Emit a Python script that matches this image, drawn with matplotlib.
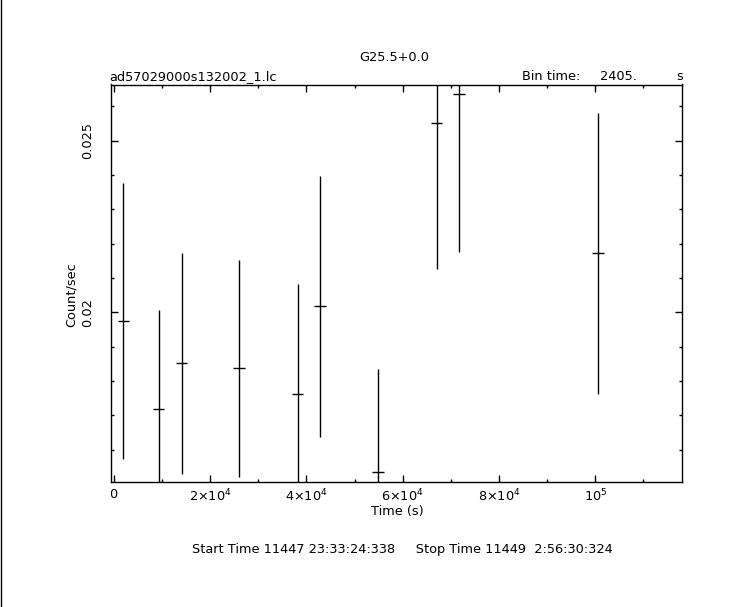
import matplotlib
matplotlib.use("Agg")
import matplotlib.pyplot as plt
from matplotlib.ticker import FixedLocator, MultipleLocator, FixedFormatter
from matplotlib.lines import Line2D

# ---- data ----
time_s = [1993, 9343, 14118, 26076, 38201, 42831, 54934, 67059, 71750, 100608]
rate = [0.019747, 0.017175, 0.018515, 0.018369, 0.017612, 0.020175,
        0.015349, 0.025504, 0.026377, 0.021718]
rate_err = [0.00402, 0.00289, 0.00322, 0.00316, 0.00321, 0.00381,
            0.00300, 0.00425, 0.00461, 0.00409]
bin_time = 2405.0
xticks = [0, 20000, 40000, 60000, 80000, 100000]
xticklabels = ["0", "2×10$^4$", "4×10$^4$", "6×10$^4$", "8×10$^4$", "10$^5$"]
yticks = [0.02, 0.025]
yticklabels = ["0.02", "0.025"]
title = "G25.5+0.0"
filename = "ad57029000s132002_1.lc"
bottom_text = "Start Time 11447 23:33:24:338     Stop Time 11449  2:56:30:324"

W, H = 743, 607
plt.rcParams['font.family'] = ['DejaVu Sans']
FS = 9.3

def fx(px):
    return px / W

def fy(py):
    return 1 - py / H

fig = plt.figure(figsize=(W / 100, H / 100), dpi=100)
left, right, top, bottom = 111, 682, 84.5, 482
ax = fig.add_axes([fx(left), fy(bottom), fx(right) - fx(left), fy(top) - fy(bottom)])

ax.errorbar(time_s, rate, yerr=rate_err, xerr=[bin_time / 2] * len(time_s),
            fmt='none', ecolor='black', elinewidth=1.0, capsize=0)

ax.set_xlim(-560, 118000)
ax.set_ylim(0.01506, 0.02664)

ax.xaxis.set_major_locator(FixedLocator(xticks))
ax.xaxis.set_major_formatter(FixedFormatter(xticklabels))
ax.xaxis.set_minor_locator(MultipleLocator(10000))
ax.yaxis.set_major_locator(FixedLocator(yticks))
ax.yaxis.set_major_formatter(FixedFormatter(yticklabels))
ax.yaxis.set_minor_locator(MultipleLocator(0.001))

ax.tick_params(which='both', direction='in', top=True, right=True, color='black', width=1.0)
ax.tick_params(which='major', length=4.8)
ax.tick_params(which='minor', length=2.4)
ax.tick_params(axis='x', which='major', labelsize=FS, pad=4)
ax.tick_params(axis='y', which='major', labelsize=FS, pad=12)
for lab in ax.get_yticklabels():
    lab.set_rotation(90)
    lab.set_va('center')
for sp in ax.spines.values():
    sp.set_linewidth(1.0)

# texts
fig.text(fx(394), fy(61), title, ha='center', va='baseline', fontsize=FS)
fig.text(fx(109), fy(80), filename, ha='left', va='baseline', fontsize=FS)
fig.text(fx(522), fy(80), "Bin time:", ha='left', va='baseline', fontsize=FS)
fig.text(fx(600), fy(80), "2405.", ha='left', va='baseline', fontsize=FS)
fig.text(fx(676), fy(80), "s", ha='left', va='baseline', fontsize=FS)
fig.text(fx(71), fy(295), "Count/sec", ha='center', va='center', rotation=90, fontsize=FS)
fig.text(fx(397), fy(512), "Time (s)", ha='center', va='center', fontsize=FS)
fig.text(fx(402), fy(549), bottom_text, ha='center', va='center', fontsize=FS)

# left edge line
fig.add_artist(Line2D([fx(0.5), fx(0.5)], [0, 1], color='black', lw=1.0, transform=fig.transFigure))

fig.savefig("out.png", dpi=100)
